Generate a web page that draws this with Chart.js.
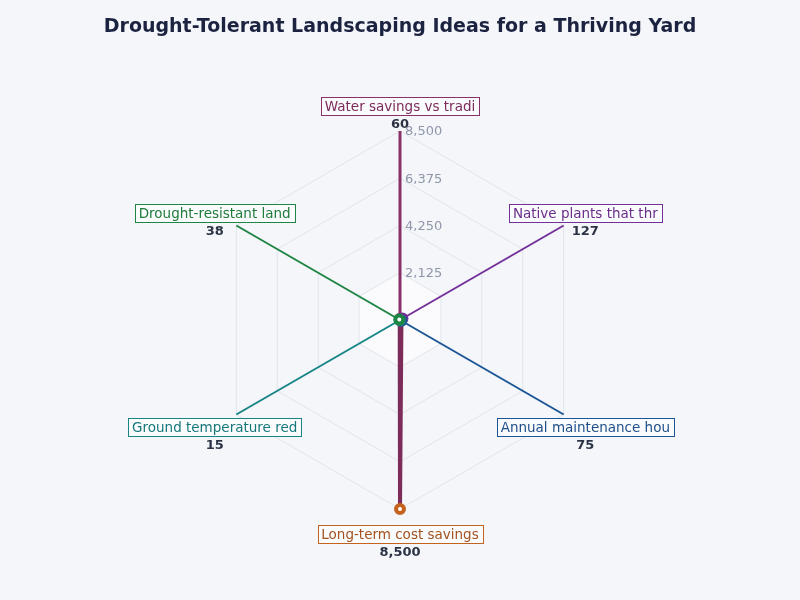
<!DOCTYPE html>
<html lang="en">
<head>
<meta charset="UTF-8">
<title>Drought-Tolerant Landscaping Ideas</title>
<script src="https://cdn.jsdelivr.net/npm/chart.js"></script>
<style>
  html, body { margin: 0; padding: 0; background: #f4f6fa; }
  #wrap { width: 800px; height: 600px; }
</style>
</head>
<body>
<div id="wrap"><canvas id="chart" width="800" height="600"></canvas></div>
<script>
// data
const categories = [
    "Water savings vs traditional lawn (%)",
    "Native plants that thrive locally",
    "Annual maintenance hours saved",
    "Long-term cost savings ($)",
    "Ground temperature reduction (°F)",
    "Drought-resistant landscaping adoption (%)"
];
const values = [60, 127, 75, 8500, 15, 38];
const tickValues = [2125, 4250, 6375, 8500];
const axisColors = ["#8a3068", "#74309a", "#1c5696", "#c4621f", "#178585", "#1f8545"];
const labelColors = ["#7d2b5b", "#6b2d8a", "#1f4f8a", "#a4521f", "#17787a", "#1e7b3a"];

const FONT = "'DejaVu Sans', sans-serif";

function fmt(n) { return n.toLocaleString("en-US"); }

// background + inner ring fill, tick labels, boxed point labels
const radarDecor = {
    id: "radarDecor",
    beforeDraw(chart) {
        const ctx = chart.ctx;
        const r = chart.scales.r;
        ctx.save();
        ctx.fillStyle = "#f4f6fa";
        ctx.fillRect(0, 0, chart.width, chart.height);
        // lighter inner hexagon
        const d = r.getDistanceFromCenterForValue(tickValues[0]);
        ctx.beginPath();
        categories.forEach((c, i) => {
            const p = r.getPointPosition(i, d);
            if (i === 0) ctx.moveTo(p.x, p.y); else ctx.lineTo(p.x, p.y);
        });
        ctx.closePath();
        ctx.fillStyle = "rgba(255,255,255,0.6)";
        ctx.fill();
        ctx.restore();
    },
    afterDraw(chart) {
        const ctx = chart.ctx;
        const r = chart.scales.r;
        ctx.save();
        // tick labels, right of the top spoke
        ctx.font = "13px " + FONT;
        ctx.fillStyle = "#8e96a8";
        ctx.textAlign = "left";
        ctx.textBaseline = "middle";
        tickValues.forEach(v => {
            const p = r.getPointPosition(0, r.getDistanceFromCenterForValue(v));
            ctx.fillText(fmt(v), p.x + 5, p.y + 1);
        });
        // point labels
        categories.forEach((c, i) => {
            const p = r.getPointPosition(i, r.drawingArea + 25);
            const text = c.slice(0, 22);
            ctx.font = "13.5px " + FONT;
            const w = Math.round(ctx.measureText(text).width + 8);
            const h = 18;
            const x0 = Math.round(p.x - w / 2) + 0.5;
            const y0 = Math.round(p.y - h / 2) + 0.5;
            ctx.fillStyle = "rgba(255,255,255,0.55)";
            ctx.fillRect(x0, y0, w, h);
            ctx.strokeStyle = axisColors[i];
            ctx.lineWidth = 1;
            ctx.strokeRect(x0, y0, w, h);
            ctx.fillStyle = labelColors[i];
            ctx.textAlign = "center";
            ctx.textBaseline = "middle";
            ctx.fillText(text, p.x, p.y + 1);
            ctx.font = "bold 13px " + FONT;
            ctx.fillStyle = "#2b3345";
            ctx.fillText(fmt(values[i]), p.x, p.y + 19);
        });
        ctx.restore();
    }
};

new Chart(document.getElementById("chart"), {
    type: "radar",
    data: {
        labels: categories,
        datasets: [{
            label: "Value",
            data: values,
            borderColor: "#7d2b5b",
            backgroundColor: "rgba(125,43,91,0.35)",
            borderWidth: 4,
            pointRadius: 4,
            pointBorderWidth: 4,
            pointBackgroundColor: "#ffffff",
            pointBorderColor: axisColors
        }]
    },
    options: {
        responsive: false,
        animation: false,
        layout: { padding: { top: 0, bottom: 90, left: 100, right: 100 } },
        plugins: {
            legend: { display: false },
            tooltip: { enabled: false },
            title: {
                display: true,
                text: "Drought-Tolerant Landscaping Ideas for a Thriving Yard",
                color: "#1b2340",
                font: { family: FONT, size: 19, weight: "bold" },
                padding: { top: 16, bottom: 92 }
            }
        },
        scales: {
            r: {
                min: 0,
                max: 8500,
                ticks: { display: false, stepSize: 2125 },
                grid: { color: "#e1e4ea", lineWidth: 1 },
                angleLines: {
                    color: ctx => axisColors[ctx.index],
                    lineWidth: ctx => ctx.index === 0 ? 3 : 2
                },
                pointLabels: { display: false }
            }
        }
    },
    plugins: [radarDecor]
});
</script>
</body>
</html>
